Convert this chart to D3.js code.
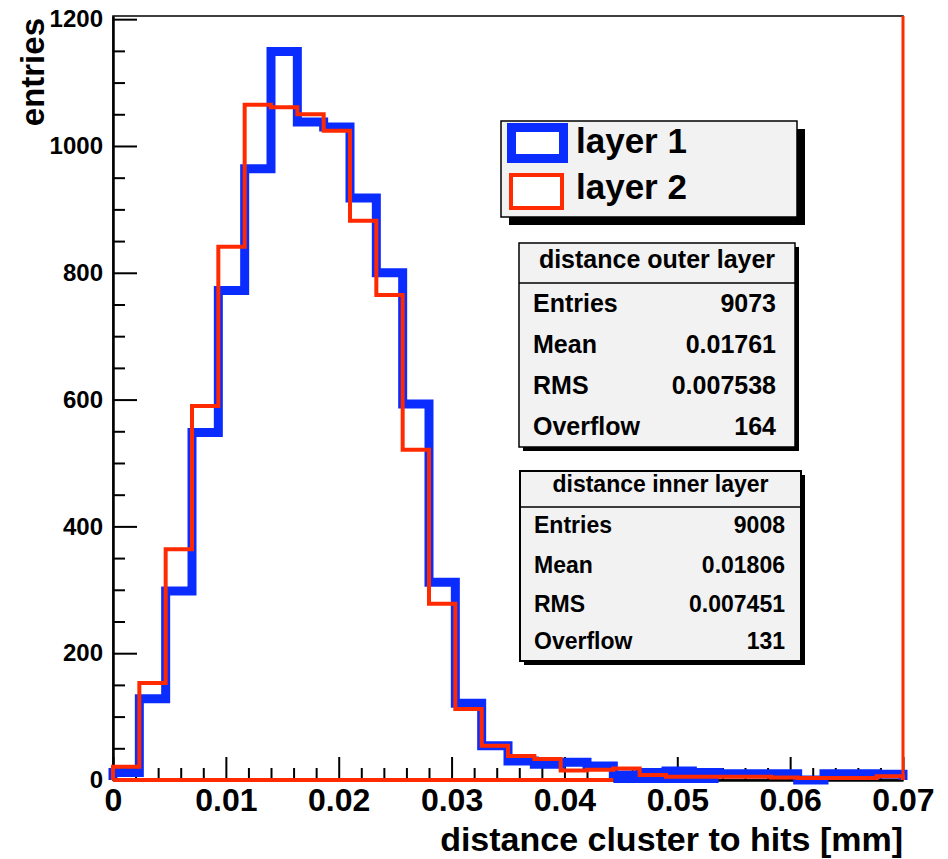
<!DOCTYPE html>
<html>
<head>
<meta charset="utf-8">
<script src="https://cdn.jsdelivr.net/npm/d3@7"></script>
<style>
  body { margin: 0; background: #fff; }
  svg { display: block; }
  text { font-family: "Liberation Sans", Arial, Helvetica, sans-serif; font-weight: bold; fill: #000; }
</style>
</head>
<body>
<div id="plot"></div>
<script>
// histogram: 30 bins over [0, 0.07]
const xRange = [0, 0.07];
const nBins = 30;

// layer 1 (blue, thick) and layer 2 (red) bin contents
const layer1 = [12, 128, 298, 548, 772, 964, 1149, 1038, 1030, 918, 800, 593, 312, 121, 54,
                30, 25, 28, 22, 8, 12, 14, 12, 10, 10, 10, 0, 10, 10, 9];
const layer2 = [21, 153, 364, 590, 841, 1065, 1061, 1050, 1024, 882, 765, 521, 278, 112, 54,
                38, 33, 15, 16, 18, 8, 5, 5, 5, 5, 4, 3, 3, 3, 6];

const yTicks = [0, 200, 400, 600, 800, 1000, 1200];
const xTicks = [0, 0.01, 0.02, 0.03, 0.04, 0.05, 0.06, 0.07];
const xTickLabels = ["0", "0.01", "0.02", "0.03", "0.04", "0.05", "0.06", "0.07"];

const legendLabels = ["layer 1", "layer 2"];
const stats1Title = "distance outer layer";
const stats1Names = ["Entries", "Mean", "RMS", "Overflow"];
const stats1Values = ["9073", "0.01761", "0.007538", "164"];
const stats2Title = "distance inner layer";
const stats2Names = ["Entries", "Mean", "RMS", "Overflow"];
const stats2Values = ["9008", "0.01806", "0.007451", "131"];

const blue = "#0a2cff";
const red = "#ff2a00";

const W = 948, H = 859;
const pLeft = 113, pRight = 903, pTop = 16, pBottom = 780;

const svg = d3.select("#plot").append("svg")
  .attr("width", W).attr("height", H);

const x = d3.scaleLinear().domain(xRange).range([pLeft, pRight]);
const y = d3.scaleLinear().domain([0, 1205]).range([pBottom, pTop]);

const binW = (xRange[1] - xRange[0]) / nBins;
const edges = d3.range(nBins + 1).map(i => xRange[0] + i * binW);

// step outline of a histogram
function stepPath(vals) {
  const p = d3.path();
  p.moveTo(x(edges[0]), y(0));
  vals.forEach((v, i) => {
    p.lineTo(x(edges[i]), y(v));
    p.lineTo(x(edges[i + 1]), y(v));
  });
  p.lineTo(x(edges[nBins]), y(0));
  return p.toString();
}

// frame
svg.append("rect")
  .attr("x", pLeft).attr("y", pTop)
  .attr("width", pRight - pLeft).attr("height", pBottom - pTop)
  .attr("fill", "none").attr("stroke", "#000").attr("stroke-width", 1.5);

// y axis
const yAxis = d3.axisLeft(y).tickValues(yTicks)
  .tickSizeInner(-24).tickSizeOuter(0).tickPadding(10)
  .tickFormat(d3.format("d"));
const yMinor = d3.axisLeft(y).tickValues(d3.range(0, 1201, 50).filter(v => v % 200 !== 0))
  .tickSizeInner(-12).tickSizeOuter(0).tickFormat("");

const gy = svg.append("g").attr("transform", `translate(${pLeft},0)`).call(yAxis);
svg.append("g").attr("transform", `translate(${pLeft},0)`).call(yMinor)
  .select(".domain").remove();
gy.select(".domain").attr("stroke-width", 2.5);
gy.selectAll("text").style("font-size", "24px").attr("fill", "#000");

// x axis
const xAxis = d3.axisBottom(x).tickValues(xTicks)
  .tickSizeInner(-23).tickSizeOuter(0).tickPadding(8)
  .tickFormat((d, i) => xTickLabels[i]);
const xMinor = d3.axisBottom(x).tickValues(d3.range(1, 35).map(i => i * 0.002).filter(v => Math.round(v * 1000) % 10 !== 0))
  .tickSizeInner(-12).tickSizeOuter(0).tickFormat("");

const gx = svg.append("g").attr("transform", `translate(0,${pBottom})`).call(xAxis);
svg.append("g").attr("transform", `translate(0,${pBottom})`).call(xMinor)
  .select(".domain").remove();
gx.select(".domain").attr("stroke-width", 2.5);
gx.selectAll("text").style("font-size", "32px").attr("fill", "#000");
svg.selectAll(".tick line").attr("stroke", "#000").attr("stroke-width", 2);

// histograms
svg.append("path").attr("d", stepPath(layer1))
  .attr("fill", "none").attr("stroke", blue).attr("stroke-width", 9)
  .attr("stroke-linejoin", "miter");
svg.append("line")
  .attr("x1", x(edges[19])).attr("x2", x(edges[23]))
  .attr("y1", y(0)).attr("y2", y(0))
  .attr("stroke", blue).attr("stroke-width", 6);
svg.append("path").attr("d", stepPath(layer2))
  .attr("fill", "none").attr("stroke", red).attr("stroke-width", 4)
  .attr("stroke-linejoin", "miter");
svg.append("line")
  .attr("x1", x(edges[0])).attr("x2", x(edges[19]))
  .attr("y1", y(0)).attr("y2", y(0))
  .attr("stroke", red).attr("stroke-width", 4);
svg.append("line")
  .attr("x1", x(xRange[1])).attr("x2", x(xRange[1]))
  .attr("y1", y(0)).attr("y2", pTop)
  .attr("stroke", red).attr("stroke-width", 3);

// axis titles
svg.append("text")
  .attr("transform", `translate(44,${pTop + 2}) rotate(-90)`)
  .attr("text-anchor", "end")
  .style("font-size", "33px")
  .text("entries");
svg.append("text")
  .attr("x", pRight).attr("y", 851)
  .attr("text-anchor", "end")
  .style("font-size", "34px")
  .text("distance cluster to hits [mm]");

// legend
const leg = svg.append("g");
leg.append("rect").attr("x", 509).attr("y", 129).attr("width", 296).attr("height", 96).attr("fill", "#000");
leg.append("rect").attr("x", 501).attr("y", 121).attr("width", 296).attr("height", 96)
  .attr("fill", "#f2f2f2").attr("stroke", "#000").attr("stroke-width", 1.5);
leg.append("rect").attr("x", 511.5).attr("y", 127.5).attr("width", 52).attr("height", 31)
  .attr("fill", "#fff").attr("stroke", blue).attr("stroke-width", 9);
leg.append("rect").attr("x", 511).attr("y", 175).attr("width", 51).attr("height", 33)
  .attr("fill", "#fff").attr("stroke", red).attr("stroke-width", 4);
leg.selectAll("text.lab").data(legendLabels).enter().append("text")
  .attr("class", "lab")
  .attr("x", 576).attr("y", (d, i) => 153 + i * 46)
  .style("font-size", "35px")
  .text(d => d);

// stats boxes
function statsBox(bx, by, bw, bh, headH, title, names, values, fs, rowY, valX, bwStroke) {
  const g = svg.append("g");
  g.append("rect").attr("x", bx + 4).attr("y", by + 4).attr("width", bw).attr("height", bh).attr("fill", "#000");
  g.append("rect").attr("x", bx).attr("y", by).attr("width", bw).attr("height", bh)
    .attr("fill", "#f2f2f2").attr("stroke", "#000").attr("stroke-width", bwStroke);
  g.append("line").attr("x1", bx).attr("x2", bx + bw).attr("y1", by + headH).attr("y2", by + headH)
    .attr("stroke", "#000").attr("stroke-width", 1.5);
  g.append("text").attr("x", bx + bw / 2).attr("y", by + headH - 15)
    .attr("text-anchor", "middle").style("font-size", fs + "px").text(title);
  names.forEach((n, i) => {
    g.append("text").attr("x", bx + 14).attr("y", rowY[i]).style("font-size", fs + "px").text(n);
    g.append("text").attr("x", valX).attr("y", rowY[i]).attr("text-anchor", "end")
      .style("font-size", fs + "px").text(values[i]);
  });
}
statsBox(519, 243, 276, 204, 40, stats1Title, stats1Names, stats1Values, 25,
  [312, 353, 394, 435], 776, 1.5);
statsBox(520, 471, 281, 190, 36, stats2Title, stats2Names, stats2Values, 23,
  [533, 573, 612, 649], 785, 2);
</script>
</body>
</html>
